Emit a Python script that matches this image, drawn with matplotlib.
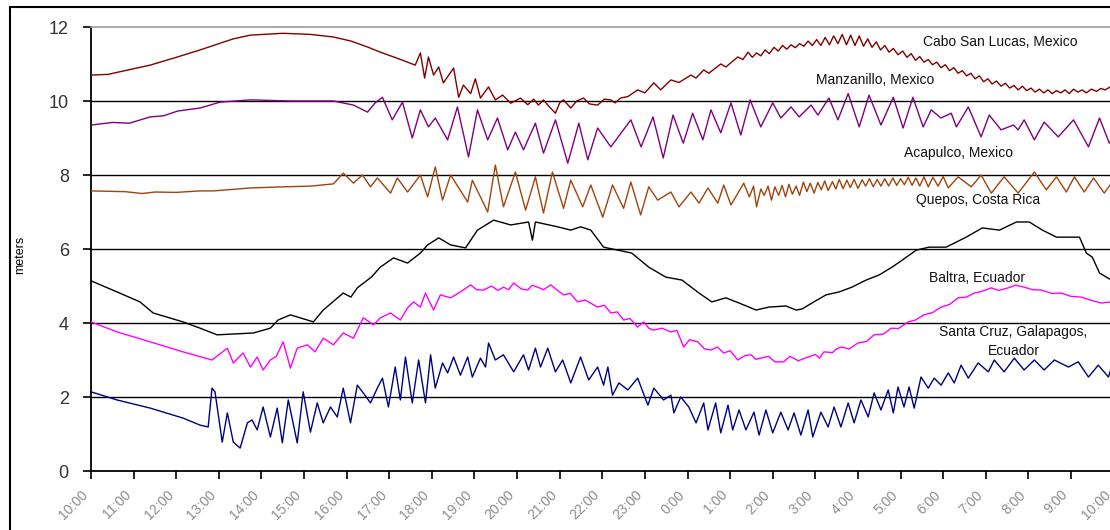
import matplotlib
matplotlib.use("Agg")
import matplotlib.pyplot as plt
import matplotlib.transforms as mtransforms
from matplotlib.patches import Rectangle

plt.rcParams['font.family'] = ['Liberation Sans', 'DejaVu Sans']

# hours after 10:00, tide height in meters
cabo = [(0, 10.70), (0.4, 10.72), (0.8, 10.82), (1.39, 10.97), (2.0, 11.18), (2.56, 11.38),
        (3.34, 11.68), (3.74, 11.78), (4.51, 11.83), (5.15, 11.80), (5.69, 11.73), (6.1, 11.62),
        (6.49, 11.46), (6.79, 11.32), (7.2, 11.15), (7.61, 10.97), (7.73, 11.30), (7.83, 10.62),
        (7.92, 11.19), (8.04, 10.70), (8.16, 10.92), (8.27, 10.49), (8.51, 10.89), (8.63, 10.10),
        (8.74, 10.43), (8.91, 10.20), (9.02, 10.60), (9.14, 10.08), (9.33, 10.38), (9.49, 10.03),
        (9.66, 10.16), (9.85, 9.94), (10.08, 10.08), (10.25, 9.90), (10.39, 10.05), (10.5, 9.89),
        (10.62, 10.03), (10.75, 9.85), (10.9, 9.67), (11.0, 9.95), (11.09, 10.03), (11.26, 9.81),
        (11.4, 10.0), (11.56, 10.08), (11.7, 9.92), (11.89, 9.89), (12.05, 10.05), (12.2, 10.03),
        (12.3, 9.95), (12.43, 10.08), (12.6, 10.12), (12.83, 10.30), (13.0, 10.22), (13.21, 10.49),
        (13.37, 10.30), (13.61, 10.57), (13.8, 10.50), (14.08, 10.70), (14.2, 10.62), (14.38, 10.84),
        (14.5, 10.75), (14.78, 11.0), (14.9, 10.92), (15.18, 11.19), (15.3, 11.12), (15.42, 11.32),
        (15.52, 11.18), (15.62, 11.30), (15.72, 11.22), (15.82, 11.38), (15.92, 11.28), (16.03, 11.45),
        (16.13, 11.35), (16.23, 11.50), (16.33, 11.40), (16.43, 11.52), (16.53, 11.44), (16.63, 11.55),
        (16.73, 11.48), (16.83, 11.62), (16.93, 11.50), (17.03, 11.66), (17.13, 11.50), (17.23, 11.72),
        (17.33, 11.52), (17.43, 11.76), (17.53, 11.55), (17.63, 11.80), (17.73, 11.52), (17.83, 11.78),
        (17.93, 11.50), (18.03, 11.76), (18.13, 11.48), (18.23, 11.68), (18.33, 11.45), (18.43, 11.60),
        (18.53, 11.38), (18.63, 11.50), (18.73, 11.32), (18.83, 11.42), (18.94, 11.25), (19.05, 11.35),
        (19.15, 11.18), (19.25, 11.28), (19.35, 11.10), (19.45, 11.20), (19.55, 11.05), (19.65, 11.12),
        (19.75, 10.98), (19.85, 11.05), (19.95, 10.90), (20.05, 10.98), (20.15, 10.82), (20.25, 10.90),
        (20.35, 10.75), (20.45, 10.82), (20.55, 10.68), (20.65, 10.75), (20.75, 10.60), (20.85, 10.68),
        (20.95, 10.52), (21.05, 10.60), (21.15, 10.46), (21.25, 10.54), (21.36, 10.40), (21.46, 10.48),
        (21.56, 10.35), (21.66, 10.42), (21.76, 10.30), (21.86, 10.40), (21.96, 10.28), (22.06, 10.35),
        (22.16, 10.24), (22.26, 10.32), (22.36, 10.22), (22.46, 10.30), (22.56, 10.20), (22.66, 10.28),
        (22.76, 10.22), (22.86, 10.30), (22.96, 10.20), (23.06, 10.32), (23.16, 10.24), (23.26, 10.30),
        (23.36, 10.22), (23.48, 10.32), (23.6, 10.26), (23.7, 10.34), (23.8, 10.30), (23.95, 10.40),
        (24.1, 10.35)]

manzanillo = [(0, 9.35), (0.5, 9.42), (0.9, 9.40), (1.39, 9.57), (1.7, 9.60), (2.04, 9.73),
              (2.56, 9.81), (3.03, 9.97), (3.74, 10.03), (4.68, 10.0), (5.69, 10.0), (6.16, 9.89),
              (6.49, 9.70), (6.67, 9.95), (6.84, 10.1), (7.07, 9.49), (7.31, 9.97), (7.54, 9.0),
              (7.73, 9.76), (7.92, 9.3), (8.08, 9.54), (8.37, 8.95), (8.60, 9.84), (8.86, 8.49),
              (9.07, 9.76), (9.31, 8.95), (9.54, 9.54), (9.78, 8.68), (9.96, 9.16), (10.15, 8.68),
              (10.43, 9.4), (10.62, 8.59), (10.90, 9.49), (11.19, 8.32), (11.45, 9.4), (11.66, 8.41),
              (11.89, 9.27), (12.20, 8.76), (12.67, 9.49), (12.91, 8.76), (13.19, 9.57), (13.43, 8.46),
              (13.66, 9.62), (13.90, 8.86), (14.12, 9.67), (14.36, 8.95), (14.55, 9.76), (14.78, 9.14),
              (15.02, 9.95), (15.25, 9.08), (15.47, 10.03), (15.72, 9.3), (16.00, 9.95), (16.19, 9.54),
              (16.43, 9.84), (16.62, 9.57), (16.90, 9.89), (17.06, 9.62), (17.32, 10.08), (17.53, 9.49),
              (17.77, 10.2), (18.03, 9.3), (18.26, 10.16), (18.54, 9.35), (18.83, 10.1), (19.06, 9.27),
              (19.29, 10.1), (19.53, 9.3), (19.72, 9.76), (19.95, 9.54), (20.19, 9.67), (20.31, 9.3),
              (20.59, 9.84), (20.89, 9.03), (21.08, 9.62), (21.36, 9.22), (21.65, 9.35), (21.76, 9.22),
              (21.90, 9.49), (22.14, 8.95), (22.37, 9.43), (22.70, 9.03), (23.06, 9.49), (23.41, 8.76),
              (23.67, 9.54), (23.90, 8.86), (24.1, 9.2)]

acapulco = [(0, 7.57), (0.8, 7.55), (1.2, 7.50), (1.5, 7.54), (2.0, 7.53), (2.56, 7.57), (2.87, 7.57),
            (3.2, 7.60), (3.74, 7.65), (4.51, 7.68), (5.15, 7.70), (5.69, 7.76), (5.92, 8.05), (6.16, 7.78),
            (6.37, 8.0), (6.56, 7.68), (6.72, 7.92), (7.03, 7.51), (7.19, 7.92), (7.43, 7.54), (7.73, 8.0),
            (7.90, 7.41), (8.08, 8.22), (8.25, 7.32), (8.44, 8.0), (8.84, 7.27), (8.95, 7.86), (9.31, 7.0),
            (9.49, 8.27), (9.68, 7.14), (9.96, 8.08), (10.20, 7.05), (10.43, 7.95), (10.62, 6.97),
            (10.83, 8.08), (11.09, 7.10), (11.26, 7.86), (11.54, 7.14), (11.73, 7.73), (12.01, 6.86),
            (12.24, 7.73), (12.50, 7.10), (12.67, 7.81), (12.90, 6.92), (13.09, 7.68), (13.30, 7.32),
            (13.61, 7.54), (13.80, 7.14), (14.08, 7.54), (14.27, 7.24), (14.48, 7.65), (14.71, 7.24),
            (14.85, 7.73), (15.02, 7.19), (15.32, 7.78), (15.45, 7.41), (15.55, 7.70), (15.62, 7.14),
            (15.72, 7.62), (15.80, 7.45), (15.89, 7.70), (15.97, 7.32), (16.05, 7.68), (16.14, 7.45),
            (16.22, 7.72), (16.30, 7.41), (16.38, 7.75), (16.46, 7.48), (16.55, 7.70), (16.63, 7.45),
            (16.72, 7.81), (16.80, 7.55), (16.88, 7.78), (16.97, 7.51), (17.06, 7.80), (17.14, 7.60),
            (17.22, 7.84), (17.30, 7.58), (17.40, 7.82), (17.48, 7.62), (17.56, 7.88), (17.65, 7.63),
            (17.74, 7.86), (17.82, 7.66), (17.91, 7.88), (18.00, 7.64), (18.10, 7.87), (18.18, 7.70),
            (18.27, 7.90), (18.36, 7.68), (18.45, 7.88), (18.54, 7.70), (18.63, 7.90), (18.72, 7.70),
            (18.82, 7.92), (18.91, 7.72), (19.00, 7.90), (19.09, 7.74), (19.18, 7.94), (19.27, 7.72),
            (19.36, 7.92), (19.45, 7.70), (19.55, 7.95), (19.65, 7.68), (19.76, 7.94), (19.88, 7.70),
            (20.0, 7.96), (20.12, 7.65), (20.35, 7.95), (20.66, 7.68), (20.89, 8.0), (21.13, 7.51),
            (21.43, 7.95), (21.76, 7.51), (22.14, 8.08), (22.42, 7.6), (22.66, 7.95), (22.89, 7.54),
            (23.08, 7.95), (23.31, 7.54), (23.53, 7.92), (23.78, 7.51), (23.95, 7.78), (24.1, 7.6)]

quepos = [(0, 5.14), (0.61, 4.84), (1.15, 4.57), (1.46, 4.27), (2.16, 4.03), (2.56, 3.86), (2.96, 3.68),
          (3.81, 3.73), (4.21, 3.86), (4.39, 4.08), (4.68, 4.22), (5.22, 4.03), (5.45, 4.35), (5.92, 4.81),
          (6.1, 4.7), (6.25, 4.95), (6.58, 5.24), (6.79, 5.51), (7.10, 5.76), (7.43, 5.62), (7.73, 5.89),
          (7.90, 6.11), (8.16, 6.30), (8.44, 6.11), (8.79, 6.03), (9.07, 6.51), (9.45, 6.78), (9.85, 6.65),
          (10.27, 6.73), (10.36, 6.24), (10.43, 6.73), (10.95, 6.6), (11.26, 6.51), (11.49, 6.6),
          (11.73, 6.51), (12.03, 6.05), (12.36, 5.97), (12.69, 5.89), (13.09, 5.51), (13.49, 5.24),
          (13.87, 5.16), (14.27, 4.81), (14.57, 4.57), (14.90, 4.68), (15.21, 4.54), (15.61, 4.35),
          (15.91, 4.43), (16.31, 4.46), (16.55, 4.35), (16.69, 4.38), (16.92, 4.54), (17.25, 4.76),
          (17.56, 4.84), (17.86, 4.97), (18.19, 5.16), (18.5, 5.30), (18.8, 5.51), (19.04, 5.70),
          (19.37, 5.97), (19.67, 6.05), (20.07, 6.05), (20.54, 6.32), (20.92, 6.57), (21.32, 6.51),
          (21.72, 6.73), (22.02, 6.73), (22.33, 6.51), (22.66, 6.32), (23.2, 6.32), (23.36, 5.89),
          (23.5, 5.78), (23.67, 5.35), (23.83, 5.24), (23.95, 5.16), (24.1, 5.1)]

baltra = [(0, 4.03), (0.61, 3.76), (1.39, 3.49), (2.16, 3.22), (2.84, 3.0), (3.2, 3.32), (3.34, 2.92),
          (3.57, 3.19), (3.74, 2.81), (3.9, 3.08), (4.04, 2.73), (4.21, 3.0), (4.35, 3.1), (4.51, 3.49),
          (4.68, 2.78), (4.84, 3.32), (5.08, 3.41), (5.26, 3.22), (5.45, 3.59), (5.69, 3.41), (5.92, 3.73),
          (6.16, 3.59), (6.39, 4.14), (6.63, 3.95), (6.79, 4.14), (7.03, 4.27), (7.26, 4.08), (7.43, 4.41),
          (7.57, 4.57), (7.73, 4.43), (7.85, 4.81), (8.04, 4.35), (8.2, 4.76), (8.44, 4.68), (8.67, 4.84),
          (8.91, 5.03), (9.05, 4.9), (9.21, 4.89), (9.4, 5.0), (9.55, 4.88), (9.68, 4.97), (9.8, 4.9),
          (9.92, 5.08), (10.1, 4.92), (10.25, 4.89), (10.35, 5.02), (10.48, 4.97), (10.62, 4.9),
          (10.79, 5.03), (10.95, 4.88), (11.09, 4.76), (11.25, 4.8), (11.42, 4.57), (11.6, 4.62),
          (11.89, 4.43), (12.05, 4.48), (12.2, 4.27), (12.35, 4.3), (12.5, 4.08), (12.65, 4.12),
          (12.83, 3.89), (12.97, 4.03), (13.1, 3.85), (13.21, 3.81), (13.4, 3.86), (13.61, 3.76),
          (13.75, 3.8), (13.91, 3.35), (14.05, 3.55), (14.24, 3.49), (14.4, 3.3), (14.55, 3.27),
          (14.7, 3.35), (14.85, 3.19), (15.0, 3.25), (15.18, 3.0), (15.35, 3.12), (15.49, 3.14),
          (15.6, 3.02), (15.72, 3.05), (15.9, 3.1), (16.05, 2.95), (16.26, 2.95), (16.4, 3.1),
          (16.6, 2.98), (16.83, 3.08), (17.0, 3.15), (17.1, 3.05), (17.2, 3.22), (17.4, 3.2), (17.5, 3.3),
          (17.6, 3.35), (17.8, 3.3), (18.0, 3.46), (18.2, 3.5), (18.38, 3.68), (18.6, 3.7), (18.78, 3.86),
          (18.95, 3.85), (19.18, 4.03), (19.35, 4.08), (19.55, 4.22), (19.75, 4.28), (19.95, 4.43),
          (20.15, 4.5), (20.35, 4.68), (20.55, 4.7), (20.73, 4.81), (20.9, 4.85), (21.13, 4.95),
          (21.3, 4.88), (21.53, 4.95), (21.7, 5.02), (21.9, 4.97), (22.1, 4.9), (22.3, 4.89), (22.55, 4.8),
          (22.77, 4.81), (23.0, 4.72), (23.24, 4.70), (23.45, 4.62), (23.71, 4.54), (23.95, 4.57),
          (24.1, 4.55)]

santa_cruz = [(0, 2.14), (0.61, 1.92), (1.39, 1.70), (2.16, 1.43), (2.56, 1.24), (2.75, 1.19), (2.84, 2.24),
              (2.91, 2.14), (3.08, 0.78), (3.20, 1.57), (3.34, 0.78), (3.50, 0.62), (3.67, 1.30), (3.78, 1.38),
              (3.90, 1.11), (4.04, 1.73), (4.21, 0.92), (4.37, 1.70), (4.49, 0.76), (4.63, 1.92), (4.84, 0.76),
              (4.98, 2.14), (5.15, 1.05), (5.31, 1.84), (5.45, 1.30), (5.62, 1.73), (5.78, 1.46), (5.92, 2.24),
              (6.09, 1.30), (6.25, 2.32), (6.39, 2.11), (6.56, 1.84), (6.72, 2.24), (6.84, 2.51), (6.98, 1.73),
              (7.14, 2.81), (7.26, 1.92), (7.38, 3.08), (7.54, 1.84), (7.69, 3.0), (7.85, 1.84), (7.97, 3.14),
              (8.08, 2.24), (8.25, 2.92), (8.37, 2.65), (8.51, 3.08), (8.67, 2.59), (8.84, 3.08), (8.95, 2.54),
              (9.14, 3.05), (9.26, 2.81), (9.33, 3.46), (9.49, 3.0), (9.68, 3.14), (9.92, 2.68), (10.15, 3.14),
              (10.27, 2.73), (10.43, 3.32), (10.55, 2.81), (10.72, 3.32), (10.90, 2.68), (11.07, 3.0),
              (11.26, 2.38), (11.49, 3.08), (11.68, 2.46), (11.89, 2.81), (12.03, 2.32), (12.13, 2.81),
              (12.24, 2.05), (12.39, 2.38), (12.60, 2.19), (12.83, 2.51), (13.07, 1.78), (13.21, 2.24),
              (13.44, 1.92), (13.61, 2.05), (13.68, 1.57), (13.84, 2.0), (14.03, 1.73), (14.20, 1.30),
              (14.38, 1.84), (14.48, 1.11), (14.66, 1.84), (14.78, 1.03), (14.95, 1.78), (15.06, 1.11),
              (15.21, 1.65), (15.37, 1.11), (15.56, 1.59), (15.68, 0.97), (15.84, 1.65), (16.00, 1.03),
              (16.19, 1.59), (16.36, 1.11), (16.50, 1.57), (16.66, 0.97), (16.83, 1.65), (16.94, 0.92),
              (17.13, 1.59), (17.30, 1.19), (17.44, 1.73), (17.60, 1.19), (17.77, 1.84), (17.91, 1.30),
              (18.07, 1.92), (18.24, 1.46), (18.38, 2.11), (18.54, 1.65), (18.71, 2.19), (18.83, 1.57),
              (18.94, 2.27), (19.08, 1.73), (19.20, 2.27), (19.32, 1.70), (19.48, 2.54), (19.65, 2.24),
              (19.79, 2.51), (19.95, 2.32), (20.12, 2.65), (20.26, 2.38), (20.42, 2.86), (20.59, 2.51),
              (20.82, 2.92), (21.06, 2.68), (21.20, 3.0), (21.43, 2.68), (21.67, 3.05), (21.90, 2.73),
              (22.14, 3.0), (22.37, 2.73), (22.61, 3.0), (22.94, 2.81), (23.17, 2.95), (23.41, 2.54),
              (23.64, 2.86), (23.88, 2.54), (23.95, 2.81), (24.1, 2.7)]

hour_labels = ["10:00", "11:00", "12:00", "13:00", "14:00", "15:00", "16:00", "17:00", "18:00",
               "19:00", "20:00", "21:00", "22:00", "23:00", "0:00", "1:00", "2:00", "3:00",
               "4:00", "5:00", "6:00", "7:00", "8:00", "9:00", "10:00"]

series = [
    (cabo, "#800000", "Cabo San Lucas, Mexico", 19.53, 11.59),
    (manzanillo, "#800080", "Manzanillo, Mexico", 17.02, 10.57),
    (acapulco, "#A0440C", "Acapulco, Mexico", 19.08, 8.59),
    (quepos, "#000000", "Quepos, Costa Rica", 19.37, 7.32),
    (baltra, "#FF00FF", "Baltra, Ecuador", 19.67, 5.22),
    (santa_cruz, "#000080", None, 0, 0),
]

fig = plt.figure(figsize=(11.1, 5.3), dpi=100)
W, H = 1110, 530
# plot area: x from 91px to ~1114px (cut off at right), y from 27px to 471px
ax = fig.add_axes([91 / W, (H - 471) / H, (1113.6 - 91) / W, (471 - 27) / H])

for yv in [2, 4, 6, 8, 10]:
    ax.axhline(yv, color="black", lw=1.0, zorder=1)

for data, col, lab, lx, ly in series:
    t = [p[0] for p in data]
    m = [p[1] for p in data]
    ax.plot(t, m, color=col, lw=1.0, zorder=3)
    if lab:
        ax.text(lx, ly, lab, fontsize=10, ha="left", va="center", color="#111111", zorder=4)
ax.text(21.65, 3.5, "Santa Cruz, Galapagos,\nEcuador", fontsize=10, ha="center", va="center",
        color="#111111", linespacing=1.5, zorder=4)

ax.set_xlim(0, 24)
ax.set_ylim(0, 12)
ax.set_yticks([0, 2, 4, 6, 8, 10, 12])
ax.set_xticks(range(25))
ax.set_xticklabels(hour_labels, rotation=45, ha="right", fontsize=10, color="#8c8c8c")
for lbl in ax.get_xticklabels():
    lbl.set_transform(lbl.get_transform() + mtransforms.ScaledTranslation(-6 / 100, -2 / 100, fig.dpi_scale_trans))
ax.tick_params(axis="y", labelsize=13, labelcolor="#333333", direction="out", length=6, width=1.2, pad=10)
ax.tick_params(axis="x", direction="out", length=6, width=1.2, pad=6)

ax.spines["right"].set_visible(False)
ax.spines["top"].set_color("#9a9a9a")
ax.spines["top"].set_linewidth(1.2)
ax.spines["left"].set_linewidth(1.3)
ax.spines["bottom"].set_linewidth(1.3)

fig.text(20 / W, 1 - 255 / H, "meters", rotation=90, ha="center", va="center", fontsize=9)

# outer chart frame (partly cut off at the right and bottom)
fig.patches.append(Rectangle((10 / W, -0.1), 1.2, 0.1 + (H - 7) / H, transform=fig.transFigure,
                             fill=False, ec="black", lw=1.5))

fig.savefig("out.png", dpi=100)
